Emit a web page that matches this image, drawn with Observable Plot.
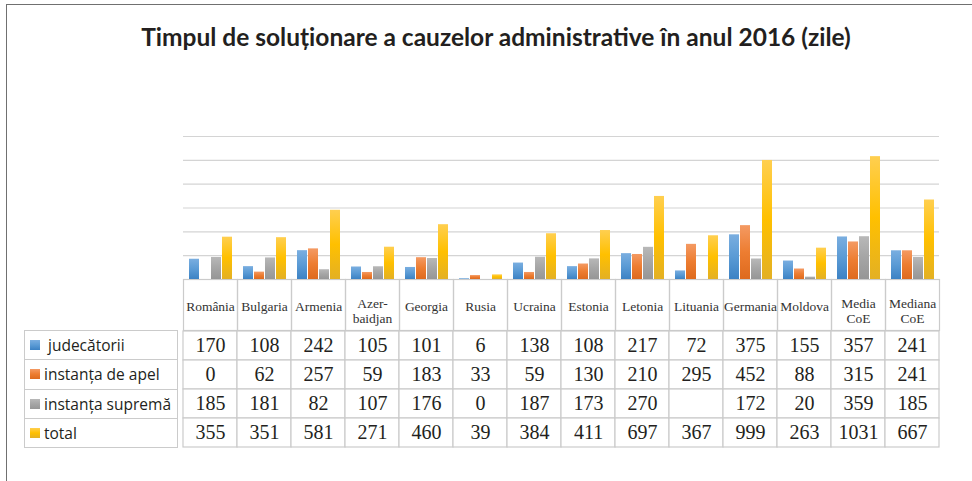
<!DOCTYPE html>
<html>
<head>
<meta charset="utf-8">
<script src="https://cdn.jsdelivr.net/npm/d3@7"></script>
<script src="https://cdn.jsdelivr.net/npm/@observablehq/plot@0.6"></script>
<style>
  html, body { margin: 0; padding: 0; background: #fff; }
  #wrap { position: relative; width: 972px; height: 481px; overflow: hidden; background: #fff; }
  #border { position: absolute; left: 6px; top: 4px; right: -5px; bottom: -5px;
            border-top: 1.5px solid #707070; border-left: 1.5px solid #707070; }
  #title { position: absolute; left: 0; width: 992px; top: 25px; text-align: center;
           font-family: Lato, "Open Sans", sans-serif; font-weight: 700; font-size: 24.5px;
           line-height: 24.5px; color: #231f20; white-space: nowrap; }
  .plot { position: absolute; left: 0; }
  #legend { position: absolute; left: 24px; top: 330px; width: 154px; }
  #legend .row { box-sizing: border-box; height: 29.25px; border: 1px solid #cbcbcb; border-bottom: none;
                 display: flex; align-items: center; font-family: "Open Sans", sans-serif;
                 font-size: 15.5px; color: #231f20; white-space: nowrap; padding-left: 5px; }
  #legend .row:last-child { border-bottom: 1px solid #cbcbcb; height: 30.25px; }
  #legend .sw { width: 10px; height: 10px; margin-right: 4px; flex: none; }
</style>
</head>
<body>
<div id="wrap">
  <div id="border"></div>
  <div id="title"></div>
  <div id="legend"></div>
</div>
<script>
const titleText = "Timpul de soluționare a cauzelor administrative în anul 2016 (zile)";
const categories = ["România", "Bulgaria", "Armenia", "Azer-\nbaidjan", "Georgia", "Rusia", "Ucraina",
  "Estonia", "Letonia", "Lituania", "Germania", "Moldova", "Media\nCoE", "Mediana\nCoE"];
const seriesNames = ["judecătorii", "instanța de apel", "instanța supremă", "total"];
const judecatorii = [170, 108, 242, 105, 101, 6, 138, 108, 217, 72, 375, 155, 357, 241];
const instantaApel = [0, 62, 257, 59, 183, 33, 59, 130, 210, 295, 452, 88, 315, 241];
const instantaSuprema = [185, 181, 82, 107, 176, 0, 187, 173, 270, null, 172, 20, 359, 185];
const total = [355, 351, 581, 271, 460, 39, 384, 411, 697, 367, 999, 263, 1031, 667];
const gridValues = [200, 400, 600, 800, 1000, 1200];
const seriesColors = [
  ["#7aaee0", "#5b9bd5", "#3c82c4"],
  ["#f49a63", "#ed7d31", "#de6a1e"],
  ["#b8b8b8", "#a5a5a5", "#969696"],
  ["#ffcf50", "#ffc000", "#e3b024"]
];

const seriesValues = [judecatorii, instantaApel, instantaSuprema, total];
const rows = [];
categories.forEach((c, i) => seriesNames.forEach((s, j) => rows.push({cat: c, series: s, value: seriesValues[j][i]})));

const serif = "'Liberation Serif', 'DejaVu Serif', serif";
const ink = "#231f20";
const lineCol = "#cbcbcb";

document.getElementById("title").textContent = titleText;

function addDefs(svg) {
  const ns = "http://www.w3.org/2000/svg";
  const defs = document.createElementNS(ns, "defs");
  seriesColors.forEach((cols, j) => {
    const g = document.createElementNS(ns, "linearGradient");
    g.setAttribute("id", "grad" + j);
    g.setAttribute("x1", "0"); g.setAttribute("y1", "0");
    g.setAttribute("x2", "0"); g.setAttribute("y2", "1");
    [[0, cols[0]], [0.5, cols[1]], [1, cols[2]]].forEach(([o, c]) => {
      const st = document.createElementNS(ns, "stop");
      st.setAttribute("offset", o);
      st.setAttribute("stop-color", c);
      g.appendChild(st);
    });
    defs.appendChild(g);
  });
  svg.insertBefore(defs, svg.firstChild);
}

const singleLine = categories.filter(c => !c.includes("\n"));
const multiLine = categories.filter(c => c.includes("\n"));
const labelStyle = {fontSize: 13.5, fontFamily: serif, fill: "#333", lineHeight: 1.1, frameAnchor: "bottom", lineAnchor: "middle"};

const chart = Plot.plot({
  width: 972, height: 331,
  marginLeft: 178, marginRight: 29, marginTop: 136, marginBottom: 52,
  style: {background: "transparent", overflow: "visible"},
  fx: {domain: categories, padding: 0, axis: null},
  x: {domain: seriesNames, paddingInner: 0.095, paddingOuter: 0.4, axis: null},
  y: {domain: [0, 1200], axis: null},
  color: {type: "ordinal", domain: seriesNames, range: seriesNames.map((s, j) => `url(#grad${j})`)},
  marks: [
    Plot.ruleY(gridValues, {stroke: "#d4d4d4", strokeWidth: 1.2}),
    Plot.frame({insetTop: 143, insetBottom: -51, stroke: lineCol, strokeWidth: 1.2}),
    Plot.barY(rows.filter(d => d.value != null && d.value > 0), {fx: "cat", x: "series", y: "value", fill: "series"}),
    Plot.text(singleLine, {fx: d => d, text: d => d, dy: 26.5, ...labelStyle}),
    Plot.text(multiLine, {fx: d => d, text: d => d, dy: 31, ...labelStyle})
  ]
});
chart.classList.add("plot");
chart.style.top = "0px";
addDefs(chart);
document.getElementById("wrap").appendChild(chart);

const table = Plot.plot({
  width: 972, height: 118,
  marginLeft: 178, marginRight: 29, marginTop: 0.5, marginBottom: 0.5,
  style: {background: "transparent", overflow: "visible"},
  x: {domain: categories, padding: 0, axis: null},
  y: {domain: seriesNames, padding: 0, axis: null},
  marks: [
    Plot.cell(rows, {x: "cat", y: "series", fill: "white", stroke: lineCol, strokeWidth: 1.2}),
    Plot.text(rows, {x: "cat", y: "series", text: d => d.value == null ? "" : String(d.value),
      fontSize: 20, fontFamily: serif, fill: ink})
  ]
});
table.classList.add("plot");
table.style.top = "329.5px";
document.getElementById("wrap").appendChild(table);

const legend = document.getElementById("legend");
seriesNames.forEach((s, j) => {
  const r = document.createElement("div");
  r.className = "row";
  const sw = document.createElement("span");
  sw.className = "sw";
  sw.style.background = `linear-gradient(${seriesColors[j][0]}, ${seriesColors[j][1]}, ${seriesColors[j][2]})`;
  if (j === 0) sw.style.marginRight = "8px";
  const t = document.createElement("span");
  t.textContent = s;
  r.appendChild(sw); r.appendChild(t);
  legend.appendChild(r);
});
</script>
</body>
</html>
